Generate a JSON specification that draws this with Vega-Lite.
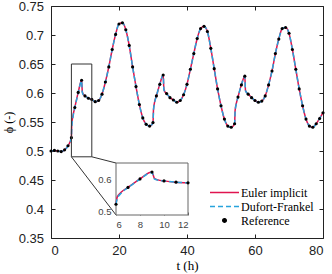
{
  "$schema": "https://vega.github.io/schema/vega-lite/v6.json",
  "width": 272,
  "height": 232,
  "autosize": {"type": "none"},
  "padding": {"left": 51, "top": 6, "right": 9, "bottom": 36},
  "background": "white",
  "datasets": {
    "ref": [
      {"t":0,"phi":0.500},{"t":1,"phi":0.501},{"t":2,"phi":0.500},{"t":3,"phi":0.499},{"t":4,"phi":0.502},{"t":5,"phi":0.509},{"t":6,"phi":0.523},{"t":7,"phi":0.575},{"t":8,"phi":0.601},{"t":9,"phi":0.622},
      {"t":10,"phi":0.595},{"t":11,"phi":0.591},{"t":12,"phi":0.589},{"t":13,"phi":0.585},{"t":14,"phi":0.587},{"t":15,"phi":0.598},{"t":16,"phi":0.619},{"t":17,"phi":0.645},{"t":18,"phi":0.675},{"t":19,"phi":0.701},
      {"t":20,"phi":0.719},{"t":21,"phi":0.721},{"t":22,"phi":0.709},{"t":23,"phi":0.682},{"t":24,"phi":0.645},{"t":25,"phi":0.611},{"t":26,"phi":0.580},{"t":27,"phi":0.557},{"t":28,"phi":0.546},{"t":29,"phi":0.543},
      {"t":30,"phi":0.549},{"t":31,"phi":0.595},{"t":32,"phi":0.615},{"t":33,"phi":0.631},{"t":34,"phi":0.599},{"t":35,"phi":0.592},{"t":36,"phi":0.588},{"t":37,"phi":0.584},{"t":38,"phi":0.587},{"t":39,"phi":0.597},
      {"t":40,"phi":0.615},{"t":41,"phi":0.641},{"t":42,"phi":0.668},{"t":43,"phi":0.694},{"t":44,"phi":0.711},{"t":45,"phi":0.715},{"t":46,"phi":0.706},{"t":47,"phi":0.677},{"t":48,"phi":0.642},{"t":49,"phi":0.607},
      {"t":50,"phi":0.578},{"t":51,"phi":0.555},{"t":52,"phi":0.543},{"t":53,"phi":0.541},{"t":54,"phi":0.547},{"t":55,"phi":0.593},{"t":56,"phi":0.614},{"t":57,"phi":0.629},{"t":58,"phi":0.598},{"t":59,"phi":0.592},
      {"t":60,"phi":0.587},{"t":61,"phi":0.584},{"t":62,"phi":0.586},{"t":63,"phi":0.595},{"t":64,"phi":0.614},{"t":65,"phi":0.638},{"t":66,"phi":0.668},{"t":67,"phi":0.693},{"t":68,"phi":0.711},{"t":69,"phi":0.713},
      {"t":70,"phi":0.703},{"t":71,"phi":0.675},{"t":72,"phi":0.641},{"t":73,"phi":0.607},{"t":74,"phi":0.578},{"t":75,"phi":0.555},{"t":76,"phi":0.543},{"t":77,"phi":0.541},{"t":78,"phi":0.547},{"t":79,"phi":0.556},
      {"t":80,"phi":0.566}
    ],
    "num": [
      {"m":"Euler implicit","t":0,"phi":0.500},{"m":"Euler implicit","t":1,"phi":0.501},{"m":"Euler implicit","t":2,"phi":0.500},{"m":"Euler implicit","t":3,"phi":0.499},{"m":"Euler implicit","t":4,"phi":0.502},{"m":"Euler implicit","t":5,"phi":0.509},{"m":"Euler implicit","t":6,"phi":0.523},{"m":"Euler implicit","t":6.1,"phi":0.545},{"m":"Euler implicit","t":6.4,"phi":0.559},{"m":"Euler implicit","t":7,"phi":0.575},{"m":"Euler implicit","t":8,"phi":0.601},{"m":"Euler implicit","t":9,"phi":0.622},{"m":"Euler implicit","t":9.2,"phi":0.603},{"m":"Euler implicit","t":9.5,"phi":0.598},
      {"m":"Euler implicit","t":10,"phi":0.595},{"m":"Euler implicit","t":11,"phi":0.591},{"m":"Euler implicit","t":12,"phi":0.589},{"m":"Euler implicit","t":13,"phi":0.585},{"m":"Euler implicit","t":14,"phi":0.587},{"m":"Euler implicit","t":15,"phi":0.598},{"m":"Euler implicit","t":16,"phi":0.619},{"m":"Euler implicit","t":17,"phi":0.645},{"m":"Euler implicit","t":18,"phi":0.675},{"m":"Euler implicit","t":19,"phi":0.701},
      {"m":"Euler implicit","t":20,"phi":0.719},{"m":"Euler implicit","t":21,"phi":0.721},{"m":"Euler implicit","t":22,"phi":0.709},{"m":"Euler implicit","t":23,"phi":0.682},{"m":"Euler implicit","t":24,"phi":0.645},{"m":"Euler implicit","t":25,"phi":0.611},{"m":"Euler implicit","t":26,"phi":0.580},{"m":"Euler implicit","t":27,"phi":0.557},{"m":"Euler implicit","t":28,"phi":0.546},{"m":"Euler implicit","t":29,"phi":0.543},
      {"m":"Euler implicit","t":30,"phi":0.549},{"m":"Euler implicit","t":30.15,"phi":0.572},{"m":"Euler implicit","t":30.5,"phi":0.585},{"m":"Euler implicit","t":31,"phi":0.595},{"m":"Euler implicit","t":32,"phi":0.615},{"m":"Euler implicit","t":33,"phi":0.631},{"m":"Euler implicit","t":33.2,"phi":0.607},{"m":"Euler implicit","t":33.5,"phi":0.602},{"m":"Euler implicit","t":34,"phi":0.599},{"m":"Euler implicit","t":35,"phi":0.592},{"m":"Euler implicit","t":36,"phi":0.588},{"m":"Euler implicit","t":37,"phi":0.584},{"m":"Euler implicit","t":38,"phi":0.587},{"m":"Euler implicit","t":39,"phi":0.597},
      {"m":"Euler implicit","t":40,"phi":0.615},{"m":"Euler implicit","t":41,"phi":0.641},{"m":"Euler implicit","t":42,"phi":0.668},{"m":"Euler implicit","t":43,"phi":0.694},{"m":"Euler implicit","t":44,"phi":0.711},{"m":"Euler implicit","t":45,"phi":0.715},{"m":"Euler implicit","t":46,"phi":0.706},{"m":"Euler implicit","t":47,"phi":0.677},{"m":"Euler implicit","t":48,"phi":0.642},{"m":"Euler implicit","t":49,"phi":0.607},
      {"m":"Euler implicit","t":50,"phi":0.578},{"m":"Euler implicit","t":51,"phi":0.555},{"m":"Euler implicit","t":52,"phi":0.543},{"m":"Euler implicit","t":53,"phi":0.541},{"m":"Euler implicit","t":54,"phi":0.547},{"m":"Euler implicit","t":54.15,"phi":0.570},{"m":"Euler implicit","t":54.5,"phi":0.582},{"m":"Euler implicit","t":55,"phi":0.593},{"m":"Euler implicit","t":56,"phi":0.614},{"m":"Euler implicit","t":57,"phi":0.629},{"m":"Euler implicit","t":57.2,"phi":0.605},{"m":"Euler implicit","t":57.5,"phi":0.601},{"m":"Euler implicit","t":58,"phi":0.598},{"m":"Euler implicit","t":59,"phi":0.592},
      {"m":"Euler implicit","t":60,"phi":0.587},{"m":"Euler implicit","t":61,"phi":0.584},{"m":"Euler implicit","t":62,"phi":0.586},{"m":"Euler implicit","t":63,"phi":0.595},{"m":"Euler implicit","t":64,"phi":0.614},{"m":"Euler implicit","t":65,"phi":0.638},{"m":"Euler implicit","t":66,"phi":0.668},{"m":"Euler implicit","t":67,"phi":0.693},{"m":"Euler implicit","t":68,"phi":0.711},{"m":"Euler implicit","t":69,"phi":0.713},
      {"m":"Euler implicit","t":70,"phi":0.703},{"m":"Euler implicit","t":71,"phi":0.675},{"m":"Euler implicit","t":72,"phi":0.641},{"m":"Euler implicit","t":73,"phi":0.607},{"m":"Euler implicit","t":74,"phi":0.578},{"m":"Euler implicit","t":75,"phi":0.555},{"m":"Euler implicit","t":76,"phi":0.543},{"m":"Euler implicit","t":77,"phi":0.541},{"m":"Euler implicit","t":78,"phi":0.547},{"m":"Euler implicit","t":79,"phi":0.556},{"m":"Euler implicit","t":80,"phi":0.566},
      {"m":"Dufort-Frankel","t":0,"phi":0.500},{"m":"Dufort-Frankel","t":1,"phi":0.501},{"m":"Dufort-Frankel","t":2,"phi":0.500},{"m":"Dufort-Frankel","t":3,"phi":0.499},{"m":"Dufort-Frankel","t":4,"phi":0.502},{"m":"Dufort-Frankel","t":5,"phi":0.509},{"m":"Dufort-Frankel","t":6,"phi":0.523},{"m":"Dufort-Frankel","t":6.1,"phi":0.540},{"m":"Dufort-Frankel","t":6.4,"phi":0.556},{"m":"Dufort-Frankel","t":7,"phi":0.574},{"m":"Dufort-Frankel","t":8,"phi":0.600},{"m":"Dufort-Frankel","t":9,"phi":0.621},{"m":"Dufort-Frankel","t":9.2,"phi":0.601},{"m":"Dufort-Frankel","t":9.5,"phi":0.597},
      {"m":"Dufort-Frankel","t":10,"phi":0.595},{"m":"Dufort-Frankel","t":11,"phi":0.591},{"m":"Dufort-Frankel","t":12,"phi":0.589},{"m":"Dufort-Frankel","t":13,"phi":0.585},{"m":"Dufort-Frankel","t":14,"phi":0.587},{"m":"Dufort-Frankel","t":15,"phi":0.598},{"m":"Dufort-Frankel","t":16,"phi":0.619},{"m":"Dufort-Frankel","t":17,"phi":0.645},{"m":"Dufort-Frankel","t":18,"phi":0.675},{"m":"Dufort-Frankel","t":19,"phi":0.701},
      {"m":"Dufort-Frankel","t":20,"phi":0.719},{"m":"Dufort-Frankel","t":21,"phi":0.721},{"m":"Dufort-Frankel","t":22,"phi":0.709},{"m":"Dufort-Frankel","t":23,"phi":0.682},{"m":"Dufort-Frankel","t":24,"phi":0.645},{"m":"Dufort-Frankel","t":25,"phi":0.611},{"m":"Dufort-Frankel","t":26,"phi":0.580},{"m":"Dufort-Frankel","t":27,"phi":0.557},{"m":"Dufort-Frankel","t":28,"phi":0.546},{"m":"Dufort-Frankel","t":29,"phi":0.543},
      {"m":"Dufort-Frankel","t":30,"phi":0.549},{"m":"Dufort-Frankel","t":30.15,"phi":0.570},{"m":"Dufort-Frankel","t":30.5,"phi":0.584},{"m":"Dufort-Frankel","t":31,"phi":0.595},{"m":"Dufort-Frankel","t":32,"phi":0.615},{"m":"Dufort-Frankel","t":33,"phi":0.631},{"m":"Dufort-Frankel","t":33.2,"phi":0.606},{"m":"Dufort-Frankel","t":33.5,"phi":0.602},{"m":"Dufort-Frankel","t":34,"phi":0.599},{"m":"Dufort-Frankel","t":35,"phi":0.592},{"m":"Dufort-Frankel","t":36,"phi":0.588},{"m":"Dufort-Frankel","t":37,"phi":0.584},{"m":"Dufort-Frankel","t":38,"phi":0.587},{"m":"Dufort-Frankel","t":39,"phi":0.597},
      {"m":"Dufort-Frankel","t":40,"phi":0.615},{"m":"Dufort-Frankel","t":41,"phi":0.641},{"m":"Dufort-Frankel","t":42,"phi":0.668},{"m":"Dufort-Frankel","t":43,"phi":0.694},{"m":"Dufort-Frankel","t":44,"phi":0.711},{"m":"Dufort-Frankel","t":45,"phi":0.715},{"m":"Dufort-Frankel","t":46,"phi":0.706},{"m":"Dufort-Frankel","t":47,"phi":0.677},{"m":"Dufort-Frankel","t":48,"phi":0.642},{"m":"Dufort-Frankel","t":49,"phi":0.607},
      {"m":"Dufort-Frankel","t":50,"phi":0.578},{"m":"Dufort-Frankel","t":51,"phi":0.555},{"m":"Dufort-Frankel","t":52,"phi":0.543},{"m":"Dufort-Frankel","t":53,"phi":0.541},{"m":"Dufort-Frankel","t":54,"phi":0.547},{"m":"Dufort-Frankel","t":54.15,"phi":0.568},{"m":"Dufort-Frankel","t":54.5,"phi":0.581},{"m":"Dufort-Frankel","t":55,"phi":0.593},{"m":"Dufort-Frankel","t":56,"phi":0.614},{"m":"Dufort-Frankel","t":57,"phi":0.629},{"m":"Dufort-Frankel","t":57.2,"phi":0.604},{"m":"Dufort-Frankel","t":57.5,"phi":0.601},{"m":"Dufort-Frankel","t":58,"phi":0.598},{"m":"Dufort-Frankel","t":59,"phi":0.592},
      {"m":"Dufort-Frankel","t":60,"phi":0.587},{"m":"Dufort-Frankel","t":61,"phi":0.584},{"m":"Dufort-Frankel","t":62,"phi":0.586},{"m":"Dufort-Frankel","t":63,"phi":0.595},{"m":"Dufort-Frankel","t":64,"phi":0.614},{"m":"Dufort-Frankel","t":65,"phi":0.638},{"m":"Dufort-Frankel","t":66,"phi":0.668},{"m":"Dufort-Frankel","t":67,"phi":0.693},{"m":"Dufort-Frankel","t":68,"phi":0.711},{"m":"Dufort-Frankel","t":69,"phi":0.713},
      {"m":"Dufort-Frankel","t":70,"phi":0.703},{"m":"Dufort-Frankel","t":71,"phi":0.675},{"m":"Dufort-Frankel","t":72,"phi":0.641},{"m":"Dufort-Frankel","t":73,"phi":0.607},{"m":"Dufort-Frankel","t":74,"phi":0.578},{"m":"Dufort-Frankel","t":75,"phi":0.555},{"m":"Dufort-Frankel","t":76,"phi":0.543},{"m":"Dufort-Frankel","t":77,"phi":0.541},{"m":"Dufort-Frankel","t":78,"phi":0.547},{"m":"Dufort-Frankel","t":79,"phi":0.556},{"m":"Dufort-Frankel","t":80,"phi":0.566}
    ],
    "zoombox": [{"x1":6,"x2":12,"y1":0.49,"y2":0.65}],
    "connectors": [{"x1":12,"y1":0.49,"x2":19.12,"y2":0.4793},{"x1":6,"y1":0.49,"x2":19.12,"y2":0.3897}]
  },
  "layer": [
    {
      "layer": [
        {
          "data": {"name": "num"},
          "transform": [{"filter": "datum.m === 'Euler implicit'"}],
          "mark": {"type": "line", "strokeWidth": 1.5, "interpolate": "monotone"},
          "encoding": {
            "x": {"field": "t", "type": "quantitative", "scale": {"domain": [0, 80], "nice": false, "zero": false},
              "axis": {"orient": "bottom", "values": [0, 20, 40, 60, 80], "tickSize": -4, "labelPadding": 10, "labelFontSize": 13, "title": "t (h)", "titleFont": "Liberation Serif", "titleFontSize": 13, "titleFontWeight": "normal", "titlePadding": 2}},
            "y": {"field": "phi", "type": "quantitative", "scale": {"domain": [0.35, 0.75], "nice": false, "zero": false},
              "axis": {"orient": "left", "values": [0.35, 0.4, 0.45, 0.5, 0.55, 0.6, 0.65, 0.7, 0.75], "format": "~g", "tickSize": -4, "labelPadding": 11.5, "labelFontSize": 13, "title": "ϕ (-)", "titleFont": "Liberation Serif", "titleFontSize": 12, "titleFontWeight": "normal", "titlePadding": 3}},
            "color": {"field": "m", "type": "nominal",
              "scale": {"domain": ["Euler implicit", "Dufort-Frankel", "Reference"], "range": ["#e0144f", "#27a3dc", "#000000"]},
              "legend": {
                "orient": "none", "legendX": 167.5, "legendY": 180.5, "padding": 0, "title": null,
                "labelFont": "Liberation Serif", "labelFontSize": 12, "labelColor": "black", "labelOffset": 10.5,
                "rowPadding": 2, "symbolSize": 100,
                "encode": {
                  "symbols": {
                    "update": {
                      "shape": {"signal": "datum.value === 'Reference' ? 'M-0.35,0A0.35,0.35 0 1,1 0.35,0A0.35,0.35 0 1,1 -0.35,0Z' : 'M-2.9,0H2.9'"},
                      "fill": {"signal": "datum.value === 'Reference' ? '#000000' : 'transparent'"},
                      "stroke": {"signal": "datum.value === 'Reference' ? 'transparent' : (datum.value === 'Euler implicit' ? '#e0144f' : '#27a3dc')"},
                      "strokeDash": {"signal": "datum.value === 'Dufort-Frankel' ? [5, 3] : [1, 0]"},
                      "strokeWidth": {"value": 1.5},
                      "opacity": {"value": 1}
                    }
                  }
                }
              }}
          }
        },
        {
          "data": {"name": "num"},
          "transform": [{"filter": "datum.m === 'Dufort-Frankel'"}],
          "mark": {"type": "line", "strokeWidth": 1.5, "strokeDash": [5, 3], "interpolate": "monotone"},
          "encoding": {
            "x": {"field": "t", "type": "quantitative", "axis": null},
            "y": {"field": "phi", "type": "quantitative", "axis": null},
            "color": {"field": "m", "type": "nominal"}
          }
        },
        {
          "data": {"name": "ref"},
          "mark": {"type": "circle", "size": 10, "opacity": 1},
          "encoding": {
            "x": {"field": "t", "type": "quantitative", "axis": null},
            "y": {"field": "phi", "type": "quantitative", "axis": null},
            "color": {"datum": "Reference", "type": "nominal"}
          }
        },
        {
          "data": {"name": "zoombox"},
          "mark": {"type": "rect", "filled": false, "stroke": "#333333", "strokeWidth": 1},
          "encoding": {
            "x": {"field": "x1", "type": "quantitative", "axis": {"orient": "top", "values": [0, 20, 40, 60, 80], "labels": false, "tickSize": -4, "title": null}},
            "x2": {"field": "x2"},
            "y": {"field": "y1", "type": "quantitative", "axis": {"orient": "right", "values": [0.35, 0.4, 0.45, 0.5, 0.55, 0.6, 0.65, 0.7, 0.75], "labels": false, "tickSize": -4, "title": null}},
            "y2": {"field": "y2"}
          }
        },
        {
          "data": {"name": "connectors"},
          "mark": {"type": "rule", "stroke": "#333333", "strokeWidth": 1},
          "encoding": {
            "x": {"field": "x1", "type": "quantitative", "axis": null},
            "y": {"field": "y1", "type": "quantitative", "axis": null},
            "x2": {"field": "x2"},
            "y2": {"field": "y2"}
          }
        }
      ],
      "resolve": {"axis": {"x": "independent", "y": "independent"}}
    },
    {
      "layer": [
        {
          "data": {"name": "zoombox"},
          "mark": {"type": "rect", "fill": "white", "stroke": "#666666", "strokeWidth": 1},
          "encoding": {
            "x": {"field": "x1", "type": "quantitative", "scale": {"domain": [6, 12], "range": [65, 137], "nice": false, "zero": false},
              "axis": {"orient": "bottom", "offset": -23, "values": [6, 8, 10, 12], "tickSize": -3, "labelPadding": 7, "labelFontSize": 9.5, "labelColor": "#444444", "tickColor": "#666666", "title": null}},
            "x2": {"field": "x2"},
            "y": {"field": "y1", "type": "quantitative", "scale": {"domain": [0.49, 0.65], "range": [209, 157], "nice": false, "zero": false},
              "axis": {"orient": "left", "offset": -65, "values": [0.5, 0.6], "format": "~g", "tickSize": -3, "labelPadding": 8, "labelFontSize": 9.5, "labelColor": "#444444", "tickColor": "#666666", "title": null}},
            "y2": {"field": "y2"}
          }
        },
        {
          "data": {"name": "num"},
          "transform": [{"filter": "datum.m === 'Euler implicit' && datum.t >= 6 && datum.t <= 12"}],
          "mark": {"type": "line", "strokeWidth": 1.5, "color": "#e0144f", "interpolate": "monotone"},
          "encoding": {
            "x": {"field": "t", "type": "quantitative"},
            "y": {"field": "phi", "type": "quantitative"}
          }
        },
        {
          "data": {"name": "num"},
          "transform": [{"filter": "datum.m === 'Dufort-Frankel' && datum.t >= 6 && datum.t <= 12"}],
          "mark": {"type": "line", "strokeWidth": 1.5, "strokeDash": [5, 3], "color": "#27a3dc", "interpolate": "monotone"},
          "encoding": {
            "x": {"field": "t", "type": "quantitative"},
            "y": {"field": "phi", "type": "quantitative"}
          }
        },
        {
          "data": {"name": "ref"},
          "transform": [{"filter": "datum.t >= 6 && datum.t <= 12"}],
          "mark": {"type": "circle", "size": 10, "opacity": 1, "color": "black"},
          "encoding": {
            "x": {"field": "t", "type": "quantitative"},
            "y": {"field": "phi", "type": "quantitative"}
          }
        }
      ]
    }
  ],
  "resolve": {"scale": {"x": "independent", "y": "independent"}},
  "config": {
    "view": {"stroke": "#222222", "strokeWidth": 1},
    "axis": {"grid": false, "domain": false, "tickColor": "#222222", "tickWidth": 1, "labelColor": "#222222", "labelFont": "Liberation Sans", "titleColor": "black"}
  }
}
